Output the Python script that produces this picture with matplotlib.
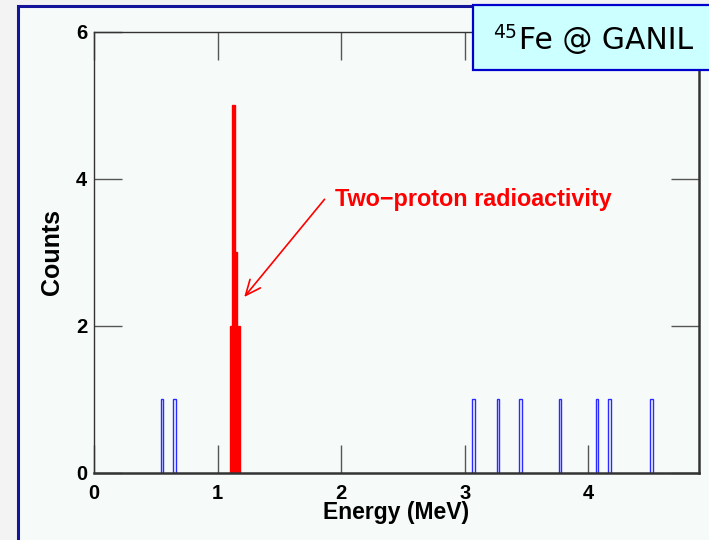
import matplotlib
matplotlib.use("Agg")
import matplotlib.pyplot as plt
from matplotlib.patches import Rectangle

# Energy spectrum of 45Fe decay events, 0.02 MeV bins (left bin edges, counts)
bin_width = 0.02
other_edges = [0.54, 0.64, 3.06, 3.26, 3.44, 3.76, 4.06, 4.16, 4.50]
other_counts = [1, 1, 1, 1, 1, 1, 1, 1, 1]
twop_edges = [1.10, 1.12, 1.14, 1.16]
twop_counts = [2, 5, 3, 2]

x_ticks = [0, 1, 2, 3, 4]
y_ticks = [0, 2, 4, 6]
x_label = "Energy (MeV)"
y_label = "Counts"
note_text = "Two\u2212proton radioactivity"
badge_mass = "45"
badge_text = "Fe @ GANIL"

W, H = 709, 540
fig = plt.figure(figsize=(W / 100, H / 100), dpi=100)
fig.patch.set_facecolor("#f3f3f3")

# slide panel with dark blue frame
panel = Rectangle((17.5 / W, -0.1), 1.2, 1 - 6 / H + 0.1, transform=fig.transFigure,
                  facecolor="#f6fbf9", edgecolor="#14149a", linewidth=2.2, zorder=-2)
fig.patches.append(panel)

ax = fig.add_axes([94 / W, 1 - 472.7 / H, (699 - 94) / W, (472.7 - 31.7) / H])
ax.set_facecolor("none")

ax.bar(other_edges, other_counts, width=bin_width, align="edge", fill=False,
       edgecolor="#2a2aff", linewidth=1.0)
ax.bar(twop_edges, twop_counts, width=bin_width, align="edge", color="red",
       edgecolor="red", linewidth=1.0)

ax.set_xlim(0, 4.894)
ax.set_ylim(0, 6)
ax.set_xticks(x_ticks)
ax.set_yticks(y_ticks)

tick_font = dict(family="Liberation Sans", weight="bold", size=14.5)
ax.set_xticklabels([str(v) for v in x_ticks], fontdict=tick_font)
ax.set_yticklabels([str(v) for v in y_ticks], fontdict=tick_font)
ax.tick_params(axis="both", direction="in", length=20, width=1.0, color="#555555",
               top=True, right=True)
ax.tick_params(axis="x", pad=8)
ax.tick_params(axis="y", pad=5)

for side, lw in (("left", 1.0), ("top", 1.0), ("bottom", 1.8), ("right", 1.8)):
    ax.spines[side].set_linewidth(lw)
    ax.spines[side].set_color("#333333")

ax.set_xlabel(x_label, family="Liberation Sans", weight="bold", size=16.5)
ax.set_ylabel(y_label, family="Liberation Sans", weight="bold", size=18)
ax.xaxis.set_label_coords(0.5, -0.064)
ax.yaxis.set_label_coords(-0.049, 0.5)

# annotation for the two-proton peak
ax.annotate("", xy=(1.215, 2.39), xytext=(1.865, 3.72),
            arrowprops=dict(arrowstyle="->,head_length=0.5,head_width=0.22",
                            color="red", lw=1.2, mutation_scale=22,
                            shrinkA=0, shrinkB=0))
ax.text(1.95, 3.72, note_text, color="red", ha="left", va="center",
        family="Liberation Sans", weight="bold", size=16.8)

# title badge
badge = Rectangle((473 / W, 1 - 70 / H), 0.5, 65 / H, transform=fig.transFigure,
                  facecolor="#ccffff", edgecolor="#0000cc", linewidth=1.6, zorder=3)
fig.patches.append(badge)
fig.text(493 / W, 1 - 23 / H, badge_mass, ha="left", va="top", size=13.5,
         family="DejaVu Sans", color="black", zorder=4)
fig.text(519 / W, 1 - 49 / H, badge_text, ha="left", va="baseline", size=21.5,
         family="DejaVu Sans", color="black", zorder=4)

fig.savefig("out.png", dpi=100, facecolor=fig.get_facecolor())
